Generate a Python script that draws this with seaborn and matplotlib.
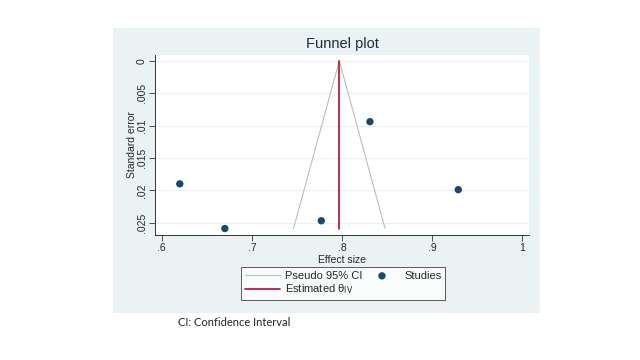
import matplotlib
matplotlib.use("Agg")
import matplotlib.pyplot as plt
import matplotlib.patches as mpatches
import seaborn as sns
import pandas as pd

# study estimates
effect = [0.620, 0.670, 0.777, 0.831, 0.929]
std_err = [0.0190, 0.0259, 0.0247, 0.0094, 0.0199]
theta_iv = 0.797
x_ticks = [0.6, 0.7, 0.8, 0.9, 1.0]
x_labels = [".6", ".7", ".8", ".9", "1"]
y_ticks = [0, 0.005, 0.01, 0.015, 0.02, 0.025]
y_labels = ["0", ".005", ".01", ".015", ".02", ".025"]

studies = pd.DataFrame({"effect": effect, "se": std_err})

sns.set_style("white")
plt.rcParams["font.family"] = ["Liberation Sans", "DejaVu Sans"]

fig = plt.figure(figsize=(6.4, 3.6), dpi=100)
fig.patch.set_facecolor("white")

# light bluish graph region behind the plot
fig.patches.append(mpatches.Rectangle((113 / 640, 1 - 313 / 360), 427 / 640, 285 / 360,
                                      transform=fig.transFigure, facecolor="#EAF2F3",
                                      edgecolor="none", zorder=-10))

ax = fig.add_axes([155 / 640, 1 - 235 / 360, 374 / 640, 180 / 360])
ax.set_facecolor("white")

# pseudo 95% CI funnel
max_se = max(std_err)
ax.plot([theta_iv - 1.96 * max_se, theta_iv, theta_iv + 1.96 * max_se],
        [max_se, 0, max_se], color="#BDBDBD", lw=0.8, label="Pseudo 95% CI", zorder=2)
ax.plot([theta_iv, theta_iv], [0, max_se], color="#C10534", lw=1.2,
        label="Estimated θ$_{\\rm IV}$", zorder=3)

sns.scatterplot(data=studies, x="effect", y="se", ax=ax, color="#1A476F", s=28,
                edgecolor="none", label="Studies", zorder=4, legend=False)

ax.set_xlim(0.5925, 1.0075)
ax.set_ylim(0.0269, -0.0009)
ax.set_xticks(x_ticks)
ax.set_xticklabels(x_labels)
ax.set_yticks(y_ticks)
ax.set_yticklabels(y_labels, rotation=90, va="center")
ax.tick_params(axis="both", direction="out", length=4, width=0.6, color="#333333",
               labelsize=7.5, pad=2, left=True, bottom=True)
ax.yaxis.grid(True, color="#EAF2F3", lw=0.9)
ax.set_axisbelow(True)
for s in ["top", "right"]:
    ax.spines[s].set_visible(False)
for s in ["left", "bottom"]:
    ax.spines[s].set_color("#333333")
    ax.spines[s].set_linewidth(0.7)

ax.set_xlabel("Effect size", fontsize=7.5, labelpad=1)
ax.set_ylabel("Standard error", fontsize=7.5, labelpad=0)
fig.text(342 / 640, 1 - 44 / 360, "Funnel plot", ha="center", va="center",
         fontsize=10.5, color="#1E2B3C")

h, l = ax.get_legend_handles_labels()
order = [l.index("Pseudo 95% CI"), l.index("Estimated θ$_{\\rm IV}$"), l.index("Studies")]
leg = fig.legend([h[i] for i in order], [l[i] for i in order], ncol=2,
                 loc="center", bbox_to_anchor=(343 / 640, 1 - 283.5 / 360),
                 fontsize=8, frameon=True, fancybox=False, handlelength=3.2,
                 columnspacing=0.2, labelspacing=0.15, borderpad=0.35, handletextpad=0.4)
leg.get_frame().set_edgecolor("#333333")
leg.get_frame().set_linewidth(0.7)

fig.text(178 / 640, 1 - 323 / 360, "CI: Confidence Interval", ha="left", va="center",
         fontsize=8, color="#222222", family=["Lato", "DejaVu Sans"])

fig.savefig("out.png", dpi=100)
